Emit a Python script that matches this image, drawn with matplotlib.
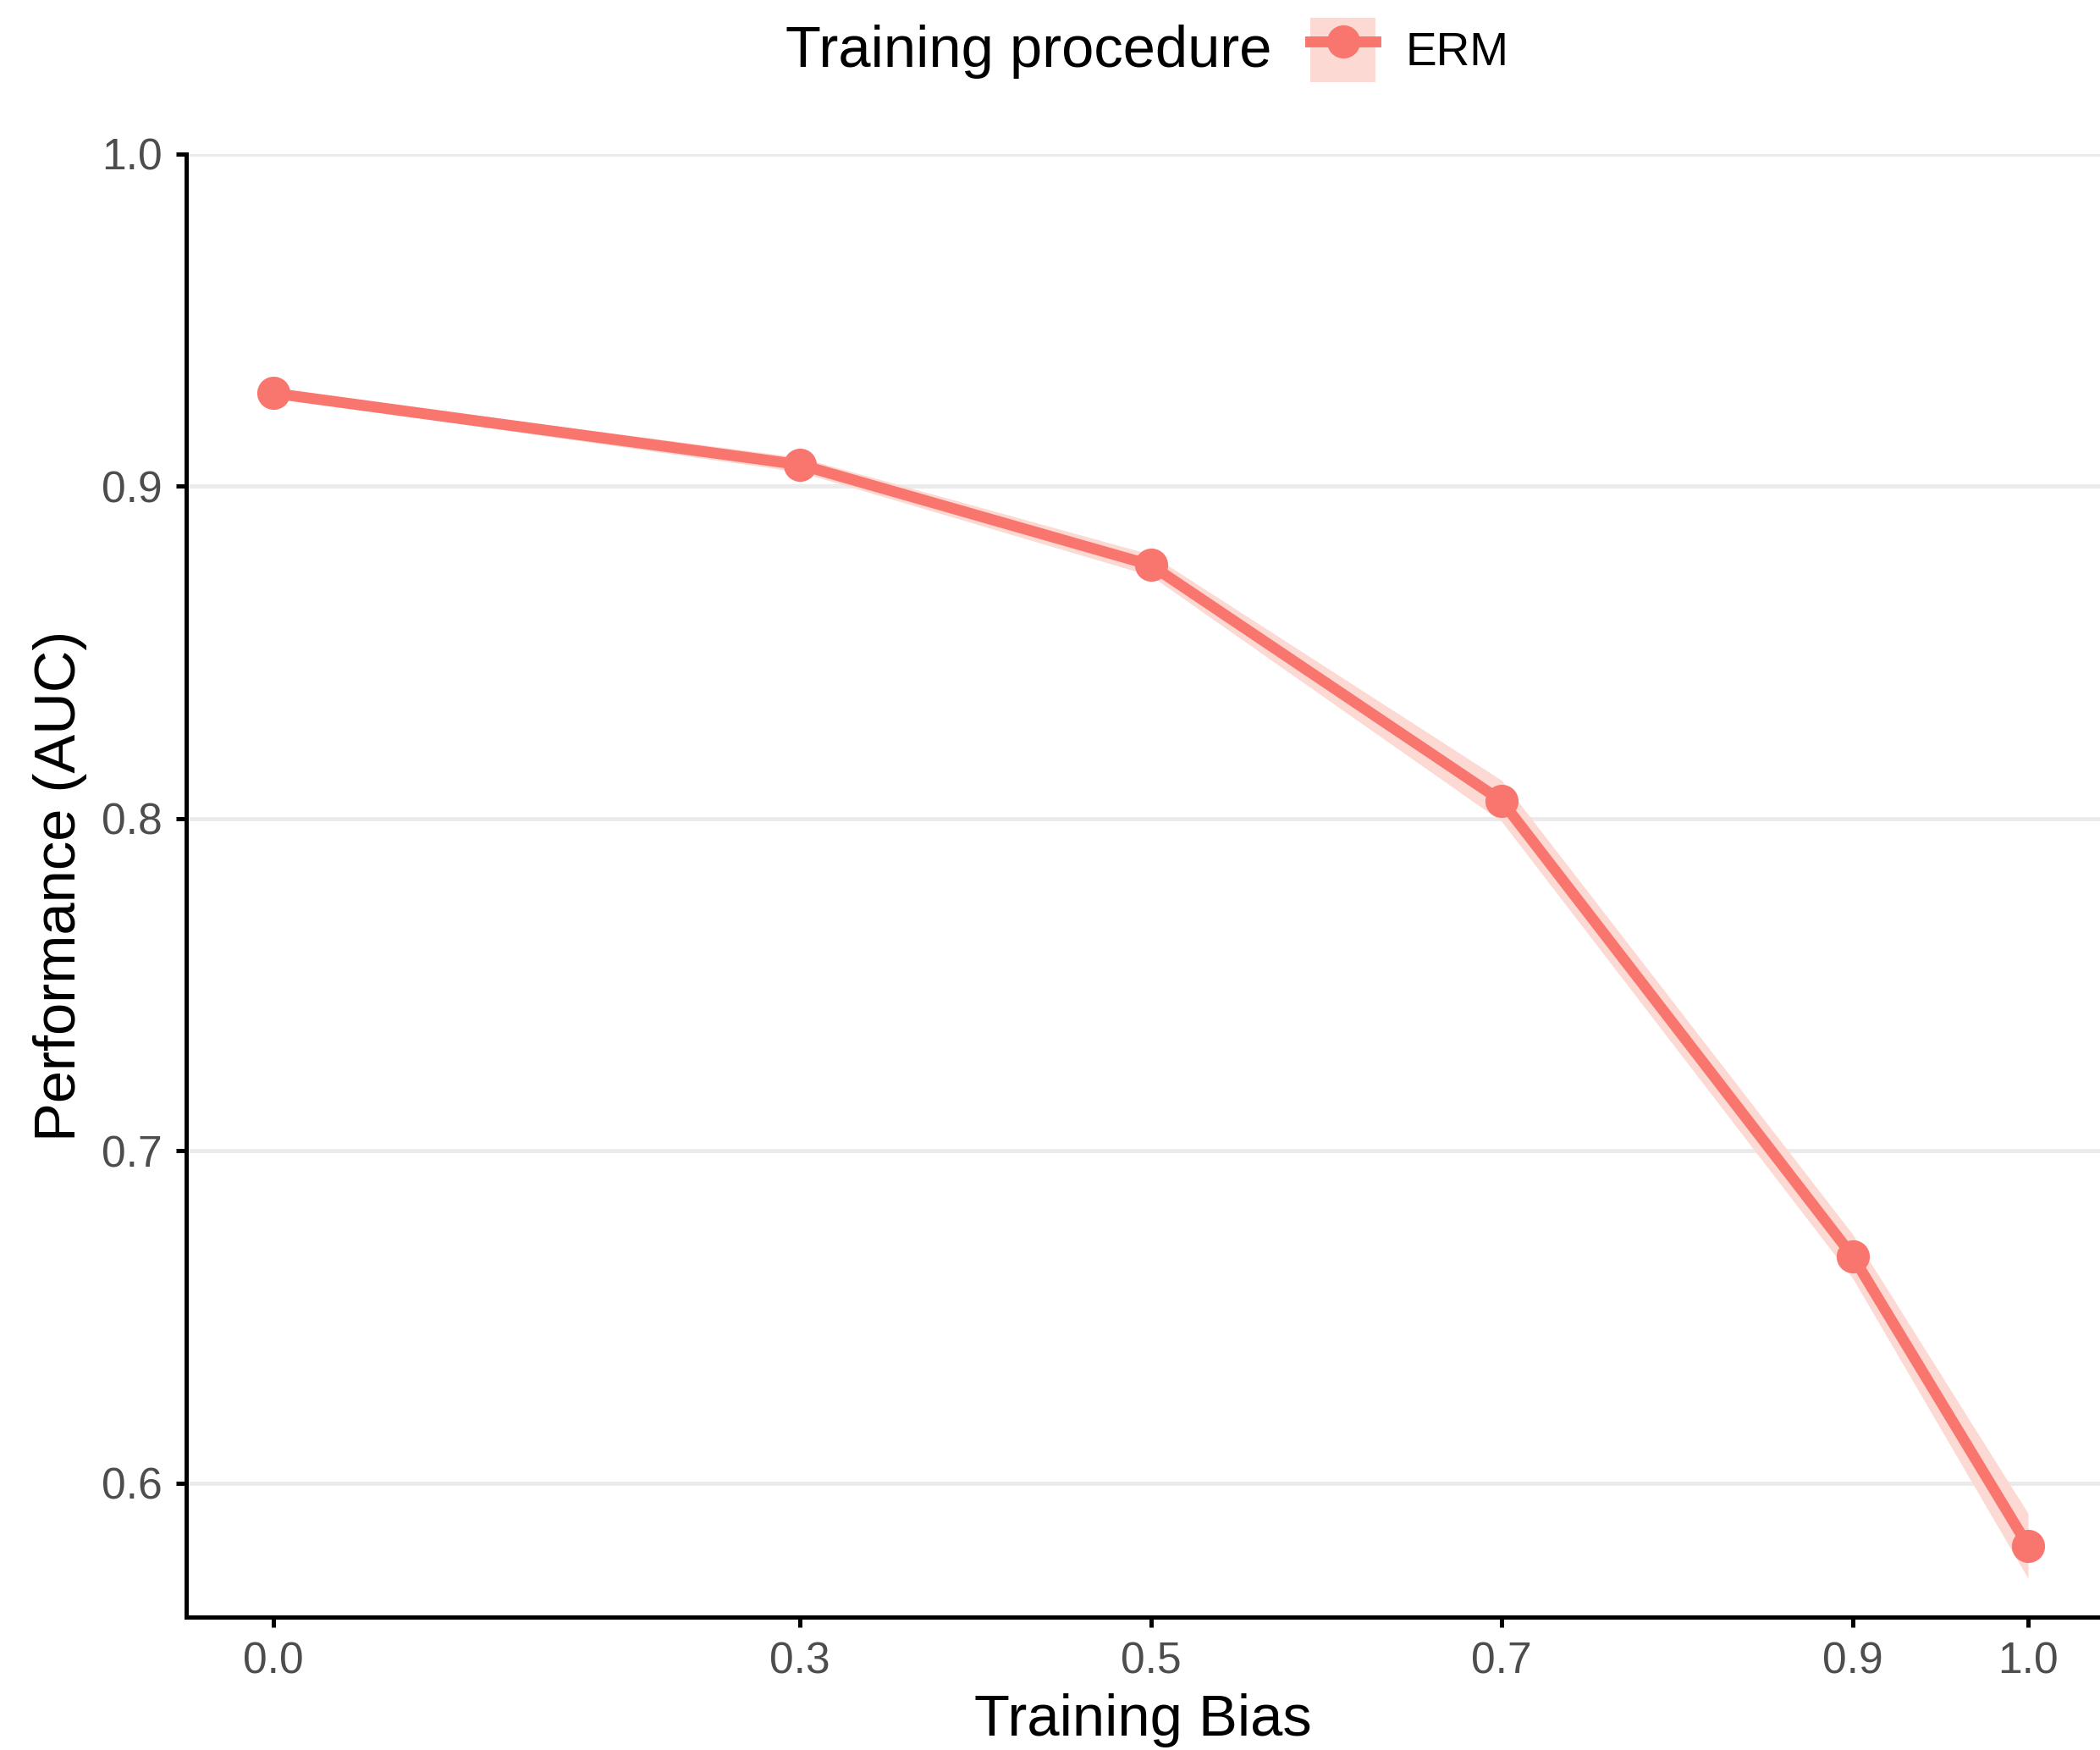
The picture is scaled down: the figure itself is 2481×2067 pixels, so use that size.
import matplotlib.pyplot as plt
from matplotlib.lines import Line2D
from matplotlib.patches import Patch
import numpy as np

plt.rcParams['font.family'] = ['Liberation Sans', 'DejaVu Sans']

# values
bias = [0.0, 0.3, 0.5, 0.7, 0.9, 1.0]
auc = [0.928, 0.9065, 0.8763, 0.8053, 0.6683, 0.5811]
auc_err = [0.0012, 0.0022, 0.0032, 0.0062, 0.0066, 0.0098]
x_ticks = [0.0, 0.3, 0.5, 0.7, 0.9, 1.0]
y_ticks = [0.6, 0.7, 0.8, 0.9, 1.0]

line_col = '#F8766D'
fill_col = '#FDD9D3'

fig = plt.figure(figsize=(2481 / 300, 2067 / 300), dpi=300)
ax = fig.add_axes([0.0887, 0.076, 0.9113, 0.836])

lo = np.array(auc) - np.array(auc_err)
hi = np.array(auc) + np.array(auc_err)
ax.fill_between(bias, lo, hi, color=fill_col, lw=0, zorder=2)
ax.plot(bias, auc, color=line_col, lw=3.1, marker='o', markersize=8.4,
        solid_capstyle='butt', zorder=3)

ax.set_xlim(-0.0497, 1.041)
ax.set_ylim(0.5597, 1.0)
ax.set_xticks(x_ticks)
ax.set_xticklabels([f"{t:.1f}" for t in x_ticks])
ax.set_yticks(y_ticks)
ax.set_yticklabels([f"{t:.1f}" for t in y_ticks])
ax.yaxis.grid(True, color='#EBEBEB', lw=1.2, zorder=0)
ax.set_axisbelow(True)

for s in ['top', 'right']:
    ax.spines[s].set_visible(False)
for s in ['left', 'bottom']:
    ax.spines[s].set_linewidth(1.2)
    ax.spines[s].set_color('black')

ax.tick_params(axis='both', length=2.9, width=1.2, color='black',
               labelsize=12.4, labelcolor='#4D4D4D', pad=4)

ax.set_xlabel('Training Bias', fontsize=16.5, labelpad=3)
ax.set_ylabel('Performance (AUC)', fontsize=16.5, labelpad=4)

# legend on top
fig.text(0.6055, 0.9705, 'Training procedure', ha='right', va='center', fontsize=16.5)
handle = (Patch(facecolor=fill_col, edgecolor='none'),
          Line2D([], [], color=line_col, lw=3.1, marker='o', markersize=8.4))
fig.legend([handle], ['ERM'], loc='center left', bbox_to_anchor=(0.624, 0.9715),
           frameon=False, fontsize=13.2, handlelength=1.4, handleheight=1.75,
           handletextpad=0.65, borderpad=0, borderaxespad=0)

fig.savefig('out.png', dpi=300)
